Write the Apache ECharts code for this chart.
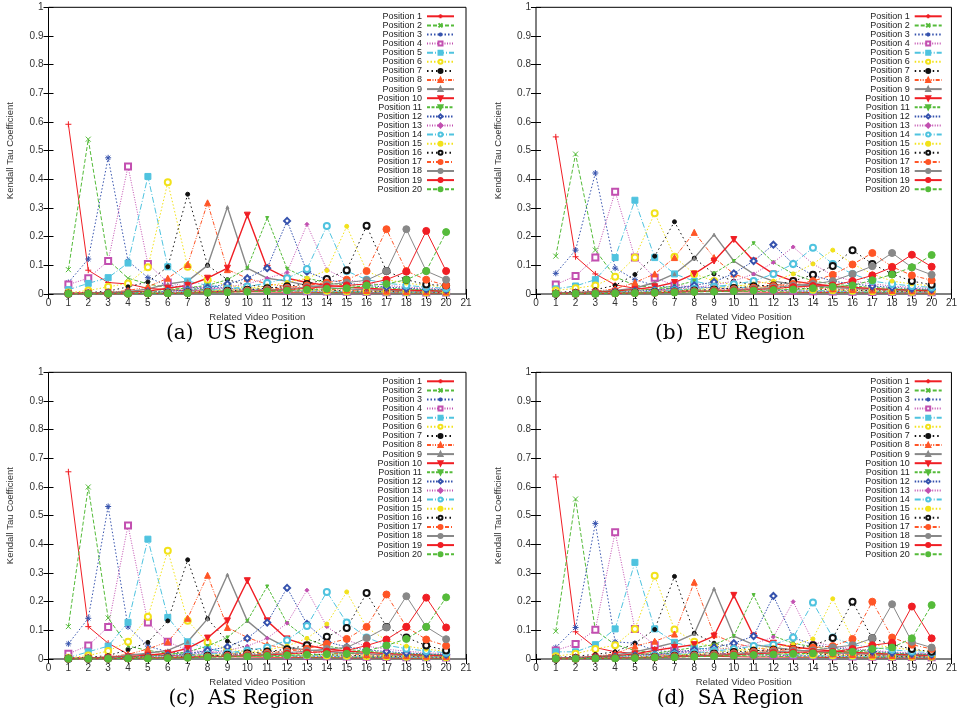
<!DOCTYPE html>
<html>
<head>
<meta charset="utf-8">
<title>Kendall Tau Coefficient by Related Video Position</title>
<script src="https://cdn.jsdelivr.net/npm/echarts@6/dist/echarts.min.js"></script>
<style>
  html, body { margin: 0; padding: 0; background: #fff; }
  #chart { width: 960px; height: 716px; }
</style>
</head>
<body>
<div id="chart"></div>
<script>
// related video positions, x axis
const positions = [1, 2, 3, 4, 5, 6, 7, 8, 9, 10, 11, 12, 13, 14, 15, 16, 17, 18, 19, 20]
const yTicks = ['0', '0.1', '0.2', '0.3', '0.4', '0.5', '0.6', '0.7', '0.8', '0.9', '1']
const captions = ['(a)  US Region', '(b)  EU Region', '(c)  AS Region', '(d)  SA Region']

// one row per "Position k" series, values at x = 1..20
const usData = [
  [0.592,0.083,0.040,0.035,0.020,0.015,0.012,0.010,0.008,0.008,0.007,0.006,0.006,0.005,0.005,0.004,0.004,0.004,0.003,0.003],
  [0.085,0.540,0.118,0.055,0.035,0.022,0.018,0.015,0.012,0.010,0.009,0.008,0.007,0.006,0.006,0.005,0.005,0.004,0.004,0.004],
  [0.040,0.122,0.475,0.115,0.057,0.030,0.022,0.025,0.020,0.016,0.014,0.012,0.010,0.009,0.008,0.007,0.006,0.006,0.005,0.005],
  [0.033,0.055,0.115,0.445,0.105,0.040,0.025,0.020,0.018,0.015,0.013,0.011,0.010,0.009,0.008,0.007,0.006,0.006,0.005,0.005],
  [0.015,0.037,0.057,0.108,0.410,0.095,0.045,0.030,0.022,0.018,0.015,0.013,0.011,0.010,0.009,0.008,0.007,0.006,0.006,0.005],
  [0.005,0.012,0.025,0.037,0.093,0.390,0.095,0.050,0.030,0.022,0.018,0.015,0.013,0.011,0.010,0.009,0.008,0.007,0.006,0.006],
  [0.003,0.005,0.010,0.025,0.042,0.095,0.348,0.100,0.050,0.032,0.024,0.019,0.016,0.013,0.011,0.010,0.009,0.008,0.007,0.006],
  [0.002,0.004,0.006,0.012,0.025,0.055,0.103,0.318,0.085,0.055,0.035,0.026,0.020,0.016,0.014,0.012,0.010,0.009,0.008,0.007],
  [0.002,0.003,0.005,0.008,0.018,0.035,0.045,0.100,0.303,0.090,0.055,0.045,0.030,0.022,0.018,0.015,0.013,0.011,0.010,0.009],
  [0.002,0.003,0.004,0.006,0.010,0.020,0.030,0.055,0.090,0.275,0.090,0.055,0.040,0.030,0.024,0.020,0.016,0.014,0.012,0.010],
  [0.001,0.002,0.003,0.005,0.008,0.012,0.022,0.030,0.050,0.090,0.265,0.088,0.055,0.040,0.030,0.025,0.020,0.017,0.015,0.013],
  [0.001,0.002,0.003,0.004,0.006,0.009,0.015,0.022,0.035,0.055,0.090,0.255,0.078,0.050,0.038,0.030,0.024,0.020,0.017,0.015],
  [0.001,0.002,0.002,0.003,0.005,0.007,0.011,0.016,0.025,0.035,0.055,0.075,0.243,0.085,0.050,0.038,0.030,0.024,0.020,0.017],
  [0.001,0.001,0.002,0.003,0.004,0.006,0.009,0.012,0.018,0.026,0.038,0.055,0.087,0.237,0.080,0.050,0.038,0.030,0.024,0.020],
  [0.001,0.001,0.002,0.002,0.004,0.005,0.007,0.010,0.014,0.020,0.028,0.040,0.055,0.082,0.236,0.080,0.050,0.038,0.030,0.025],
  [0.001,0.001,0.001,0.002,0.003,0.004,0.006,0.008,0.011,0.015,0.020,0.027,0.035,0.052,0.083,0.238,0.080,0.050,0.033,0.030],
  [0.001,0.001,0.001,0.002,0.002,0.003,0.005,0.007,0.009,0.012,0.016,0.022,0.030,0.040,0.050,0.080,0.226,0.080,0.050,0.030],
  [0.001,0.001,0.001,0.001,0.002,0.003,0.004,0.006,0.008,0.010,0.014,0.018,0.024,0.032,0.040,0.048,0.080,0.226,0.080,0.050],
  [0.001,0.001,0.001,0.001,0.002,0.002,0.003,0.005,0.007,0.009,0.012,0.015,0.020,0.026,0.030,0.035,0.050,0.078,0.220,0.080],
  [0.001,0.001,0.001,0.001,0.002,0.002,0.003,0.004,0.006,0.008,0.010,0.012,0.015,0.018,0.020,0.030,0.035,0.050,0.080,0.216]
]
const euData = [
  [0.548,0.130,0.070,0.032,0.020,0.015,0.012,0.010,0.009,0.008,0.007,0.006,0.006,0.005,0.005,0.005,0.004,0.004,0.004,0.003],
  [0.132,0.488,0.153,0.060,0.030,0.022,0.018,0.015,0.012,0.010,0.009,0.008,0.007,0.007,0.006,0.006,0.005,0.005,0.004,0.004],
  [0.072,0.153,0.422,0.090,0.050,0.030,0.022,0.025,0.022,0.018,0.015,0.013,0.011,0.010,0.009,0.008,0.007,0.007,0.006,0.006],
  [0.033,0.063,0.127,0.357,0.127,0.057,0.030,0.025,0.020,0.017,0.015,0.013,0.011,0.010,0.009,0.008,0.007,0.007,0.006,0.006],
  [0.018,0.028,0.050,0.127,0.327,0.127,0.070,0.045,0.030,0.024,0.020,0.017,0.015,0.013,0.011,0.010,0.009,0.008,0.007,0.007],
  [0.012,0.020,0.030,0.060,0.127,0.282,0.130,0.070,0.045,0.032,0.025,0.020,0.017,0.015,0.013,0.011,0.010,0.009,0.008,0.008],
  [0.005,0.010,0.015,0.030,0.068,0.132,0.252,0.125,0.070,0.045,0.032,0.026,0.021,0.018,0.015,0.013,0.012,0.010,0.009,0.008],
  [0.003,0.006,0.010,0.018,0.040,0.070,0.127,0.215,0.127,0.070,0.045,0.034,0.027,0.022,0.018,0.016,0.014,0.012,0.011,0.010],
  [0.003,0.005,0.008,0.012,0.020,0.040,0.070,0.125,0.207,0.115,0.070,0.045,0.034,0.028,0.023,0.019,0.016,0.014,0.012,0.011],
  [0.002,0.004,0.006,0.010,0.016,0.025,0.040,0.070,0.115,0.190,0.115,0.070,0.045,0.035,0.028,0.023,0.019,0.016,0.014,0.012],
  [0.002,0.003,0.005,0.008,0.012,0.018,0.028,0.045,0.072,0.115,0.177,0.110,0.070,0.045,0.035,0.028,0.023,0.019,0.016,0.014],
  [0.002,0.003,0.004,0.006,0.010,0.014,0.020,0.030,0.042,0.072,0.115,0.172,0.105,0.065,0.045,0.035,0.028,0.023,0.019,0.016],
  [0.001,0.002,0.004,0.005,0.008,0.012,0.016,0.022,0.032,0.045,0.070,0.110,0.164,0.105,0.065,0.045,0.035,0.028,0.023,0.019],
  [0.001,0.002,0.003,0.005,0.007,0.010,0.013,0.018,0.025,0.034,0.045,0.070,0.105,0.161,0.105,0.070,0.045,0.035,0.028,0.023],
  [0.001,0.002,0.003,0.004,0.006,0.008,0.011,0.015,0.020,0.027,0.035,0.045,0.070,0.105,0.153,0.105,0.070,0.045,0.035,0.028],
  [0.001,0.002,0.002,0.004,0.005,0.007,0.009,0.012,0.016,0.021,0.027,0.030,0.045,0.067,0.098,0.153,0.105,0.070,0.045,0.032],
  [0.001,0.001,0.002,0.003,0.004,0.006,0.008,0.010,0.013,0.017,0.022,0.028,0.035,0.045,0.067,0.103,0.143,0.095,0.065,0.048],
  [0.001,0.001,0.002,0.003,0.004,0.005,0.007,0.009,0.011,0.014,0.018,0.023,0.029,0.035,0.045,0.070,0.097,0.143,0.093,0.067],
  [0.001,0.001,0.002,0.002,0.003,0.004,0.006,0.008,0.010,0.012,0.015,0.019,0.024,0.028,0.030,0.045,0.065,0.093,0.137,0.095],
  [0.001,0.001,0.001,0.002,0.003,0.004,0.005,0.007,0.008,0.010,0.012,0.014,0.016,0.020,0.025,0.030,0.048,0.068,0.093,0.136]
]
const asData = [
  [0.653,0.113,0.055,0.017,0.015,0.012,0.010,0.009,0.008,0.007,0.006,0.006,0.005,0.005,0.004,0.004,0.004,0.003,0.003,0.003],
  [0.113,0.600,0.143,0.045,0.030,0.020,0.016,0.013,0.011,0.010,0.009,0.008,0.007,0.006,0.006,0.005,0.005,0.004,0.004,0.004],
  [0.053,0.142,0.532,0.112,0.045,0.025,0.020,0.022,0.018,0.015,0.013,0.011,0.010,0.009,0.008,0.007,0.006,0.006,0.005,0.005],
  [0.018,0.047,0.112,0.466,0.127,0.060,0.030,0.025,0.020,0.017,0.014,0.012,0.011,0.010,0.009,0.008,0.007,0.006,0.006,0.005],
  [0.005,0.025,0.045,0.128,0.418,0.145,0.060,0.035,0.025,0.020,0.016,0.014,0.012,0.011,0.010,0.009,0.008,0.007,0.006,0.006],
  [0.004,0.012,0.028,0.060,0.147,0.378,0.133,0.058,0.035,0.025,0.020,0.016,0.014,0.012,0.011,0.010,0.009,0.008,0.007,0.006],
  [0.003,0.006,0.012,0.032,0.058,0.133,0.346,0.140,0.062,0.038,0.028,0.022,0.018,0.015,0.013,0.011,0.010,0.009,0.008,0.007],
  [0.002,0.004,0.008,0.016,0.035,0.060,0.142,0.292,0.110,0.075,0.050,0.035,0.027,0.021,0.018,0.015,0.013,0.011,0.010,0.009],
  [0.002,0.003,0.006,0.012,0.020,0.030,0.060,0.140,0.294,0.133,0.075,0.040,0.032,0.026,0.021,0.018,0.015,0.013,0.011,0.010],
  [0.002,0.003,0.005,0.008,0.013,0.020,0.037,0.073,0.133,0.273,0.133,0.070,0.048,0.035,0.028,0.023,0.019,0.016,0.014,0.012],
  [0.001,0.002,0.004,0.006,0.010,0.015,0.025,0.045,0.075,0.133,0.253,0.125,0.070,0.045,0.034,0.027,0.022,0.018,0.016,0.014],
  [0.001,0.002,0.003,0.005,0.008,0.012,0.018,0.030,0.042,0.072,0.127,0.248,0.122,0.060,0.042,0.032,0.026,0.021,0.018,0.015],
  [0.001,0.002,0.003,0.004,0.006,0.010,0.014,0.022,0.030,0.045,0.072,0.125,0.240,0.113,0.065,0.045,0.034,0.027,0.022,0.018],
  [0.001,0.001,0.002,0.004,0.005,0.008,0.011,0.016,0.022,0.030,0.040,0.065,0.115,0.234,0.127,0.075,0.048,0.036,0.028,0.022],
  [0.001,0.001,0.002,0.003,0.005,0.007,0.009,0.013,0.018,0.024,0.032,0.045,0.072,0.122,0.234,0.110,0.065,0.045,0.034,0.027],
  [0.001,0.001,0.002,0.003,0.004,0.006,0.008,0.011,0.015,0.020,0.026,0.034,0.048,0.078,0.108,0.230,0.112,0.075,0.047,0.030],
  [0.001,0.001,0.002,0.003,0.004,0.005,0.007,0.009,0.012,0.016,0.021,0.027,0.036,0.053,0.070,0.112,0.225,0.112,0.068,0.046],
  [0.001,0.001,0.001,0.002,0.003,0.004,0.006,0.008,0.010,0.013,0.017,0.022,0.028,0.035,0.040,0.073,0.110,0.219,0.112,0.069],
  [0.001,0.001,0.001,0.002,0.003,0.004,0.005,0.007,0.009,0.011,0.014,0.018,0.022,0.026,0.030,0.047,0.068,0.112,0.214,0.110],
  [0.001,0.001,0.001,0.002,0.002,0.003,0.004,0.006,0.007,0.009,0.011,0.013,0.015,0.017,0.018,0.028,0.047,0.070,0.112,0.215]
]
const saData = [
  [0.635,0.095,0.040,0.025,0.020,0.015,0.012,0.010,0.009,0.008,0.007,0.007,0.006,0.006,0.005,0.005,0.004,0.004,0.004,0.003],
  [0.097,0.558,0.100,0.050,0.030,0.022,0.018,0.015,0.012,0.011,0.010,0.009,0.008,0.007,0.007,0.006,0.006,0.005,0.005,0.004],
  [0.040,0.110,0.473,0.060,0.055,0.030,0.024,0.025,0.020,0.017,0.015,0.013,0.012,0.010,0.009,0.008,0.008,0.007,0.006,0.006],
  [0.030,0.052,0.102,0.442,0.105,0.048,0.030,0.025,0.021,0.018,0.015,0.013,0.012,0.011,0.010,0.009,0.008,0.007,0.007,0.006],
  [0.025,0.025,0.050,0.105,0.337,0.105,0.058,0.040,0.030,0.024,0.020,0.017,0.015,0.013,0.011,0.010,0.009,0.008,0.008,0.007],
  [0.010,0.018,0.035,0.048,0.105,0.290,0.103,0.060,0.042,0.032,0.025,0.021,0.018,0.015,0.013,0.012,0.010,0.009,0.008,0.008],
  [0.005,0.010,0.016,0.025,0.055,0.103,0.288,0.090,0.055,0.040,0.031,0.025,0.021,0.018,0.015,0.013,0.012,0.010,0.009,0.008],
  [0.003,0.006,0.010,0.018,0.045,0.062,0.087,0.268,0.085,0.055,0.040,0.031,0.025,0.021,0.018,0.016,0.014,0.012,0.011,0.010],
  [0.003,0.005,0.008,0.014,0.025,0.040,0.057,0.088,0.245,0.080,0.050,0.040,0.032,0.026,0.022,0.019,0.016,0.014,0.012,0.011],
  [0.002,0.004,0.007,0.011,0.018,0.030,0.040,0.050,0.080,0.222,0.080,0.055,0.042,0.034,0.028,0.023,0.020,0.017,0.015,0.013],
  [0.002,0.003,0.006,0.009,0.014,0.020,0.030,0.040,0.050,0.080,0.223,0.080,0.055,0.042,0.034,0.028,0.023,0.020,0.017,0.015],
  [0.002,0.003,0.005,0.008,0.012,0.016,0.024,0.032,0.040,0.055,0.080,0.220,0.075,0.050,0.040,0.032,0.027,0.022,0.019,0.016],
  [0.001,0.002,0.004,0.006,0.010,0.014,0.019,0.026,0.033,0.040,0.052,0.077,0.200,0.060,0.045,0.036,0.030,0.025,0.021,0.018],
  [0.001,0.002,0.003,0.005,0.008,0.012,0.016,0.021,0.028,0.035,0.045,0.050,0.075,0.197,0.075,0.050,0.040,0.032,0.026,0.022],
  [0.001,0.002,0.003,0.005,0.007,0.010,0.013,0.018,0.023,0.030,0.036,0.040,0.050,0.070,0.210,0.070,0.050,0.040,0.032,0.026],
  [0.001,0.002,0.003,0.004,0.006,0.008,0.011,0.015,0.019,0.024,0.029,0.032,0.035,0.048,0.073,0.200,0.072,0.050,0.035,0.025],
  [0.001,0.001,0.002,0.004,0.005,0.007,0.010,0.013,0.016,0.020,0.025,0.030,0.034,0.040,0.045,0.070,0.200,0.075,0.050,0.035],
  [0.001,0.001,0.002,0.003,0.005,0.006,0.008,0.011,0.014,0.017,0.021,0.025,0.028,0.030,0.040,0.048,0.072,0.191,0.060,0.040],
  [0.001,0.001,0.002,0.003,0.004,0.005,0.007,0.009,0.012,0.015,0.018,0.021,0.023,0.025,0.025,0.035,0.048,0.057,0.183,0.072],
  [0.001,0.001,0.002,0.002,0.003,0.005,0.006,0.008,0.010,0.012,0.014,0.016,0.018,0.020,0.022,0.025,0.035,0.040,0.072,0.188]
]
const regionData = [usData, euData, asData, saData]

// gnuplot-like line / point styles, one per position
const plus = 'path://M5,0L5,10M0,5L10,5'
const cross = 'path://M0,0L10,10M10,0L0,10'
const star = 'path://M5,0L5,10M0,5L10,5M1.5,1.5L8.5,8.5M8.5,1.5L1.5,8.5'
const RED = '#f01e24', GREEN = '#55bb3a', BLUE = '#3552ad', MAG = '#c24fb0',
      CYAN = '#4fc3df', YEL = '#f2e21a', BLK = '#111111', ORG = '#ff5526', GRAY = '#888888'
const styles = [
  { color: RED,   dash: 'solid',            symbol: plus,            size: 6 },
  { color: GREEN, dash: [4, 2],             symbol: cross,           size: 5 },
  { color: BLUE,  dash: [1.5, 2],           symbol: star,            size: 6 },
  { color: MAG,   dash: [1, 1.5],           symbol: 'emptyRect',     size: 6 },
  { color: CYAN,  dash: [6, 2, 1, 2],       symbol: 'rect',          size: 6 },
  { color: YEL,   dash: [1.5, 2],           symbol: 'emptyCircle',   size: 6 },
  { color: BLK,   dash: [1.5, 3],           symbol: 'circle',        size: 4 },
  { color: ORG,   dash: [4, 1.5, 1, 1.5, 1, 1.5], symbol: 'triangle', size: 6 },
  { color: GRAY,  dash: 'solid',            symbol: 'triangle',      size: 3, width: 1.4 },
  { color: RED,   dash: 'solid',            symbol: 'triangle',      size: 6, rotate: 180, width: 1.4 },
  { color: GREEN, dash: [3, 1.5],           symbol: 'triangle',      size: 3, rotate: 180 },
  { color: BLUE,  dash: [1.5, 1.5],         symbol: 'emptyDiamond',  size: 6 },
  { color: MAG,   dash: [1, 1.5],           symbol: 'diamond',       size: 4 },
  { color: CYAN,  dash: [6, 2, 1, 2],       symbol: 'emptyCircle',   size: 6 },
  { color: YEL,   dash: [1.5, 2],           symbol: 'circle',        size: 4 },
  { color: BLK,   dash: [1.5, 3],           symbol: 'emptyCircle',   size: 6, border: 2 },
  { color: ORG,   dash: [4, 2, 1, 2],       symbol: 'circle',        size: 7 },
  { color: GRAY,  dash: 'solid',            symbol: 'circle',        size: 7 },
  { color: RED,   dash: 'solid',            symbol: 'circle',        size: 7 },
  { color: GREEN, dash: [4, 2],             symbol: 'circle',        size: 7 }
]

// plot boxes: [left, top] of each panel
const panels = [[48.5, 7.3], [536, 7.3], [48.5, 372.3], [536, 372.3]]
const boxW = 417.5, boxH = 286.7
const captionPos = [[240, 334], [730, 334], [241, 699], [730, 699]]

const FONT = '"Liberation Sans", Arial, sans-serif'
const grids = [], xAxes = [], yAxes = [], legends = [], series = [], graphics = []

panels.forEach(([left, top], g) => {
  grids.push({ left: left, top: top, width: boxW, height: boxH, show: true,
    borderColor: '#000', borderWidth: 1, backgroundColor: 'transparent' })
  const xBase = { gridIndex: g, type: 'value', min: 0, max: 21, interval: 1,
    axisLine: { show: false }, splitLine: { show: false },
    axisTick: { inside: true, length: 5, lineStyle: { color: '#000' } } }
  xAxes.push(Object.assign({}, xBase, {
    position: 'bottom',
    axisLabel: { fontSize: 10, color: '#333', margin: 4, fontFamily: FONT },
    name: 'Related Video Position', nameLocation: 'middle', nameGap: 18,
    nameTextStyle: { fontSize: 9.5, color: '#333', fontFamily: FONT }
  }))
  xAxes.push(Object.assign({}, xBase, { position: 'top', axisLabel: { show: false } }))
  const yBase = { gridIndex: g, type: 'value', min: 0, max: 1, interval: 0.1,
    axisLine: { show: false }, splitLine: { show: false },
    axisTick: { inside: true, length: 5, lineStyle: { color: '#000' } } }
  yAxes.push(Object.assign({}, yBase, {
    position: 'left',
    axisLabel: { fontSize: 10, color: '#333', margin: 5, fontFamily: FONT,
      formatter: v => yTicks[Math.round(v * 10)] },
    name: 'Kendall Tau Coefficient', nameLocation: 'middle', nameGap: 33,
    nameTextStyle: { fontSize: 9.5, color: '#333', fontFamily: FONT }
  }))
  yAxes.push(Object.assign({}, yBase, { position: 'right', axisLabel: { show: false } }))

  legends.push({
    orient: 'vertical', align: 'right',
    right: g % 2 === 0 ? 505 : 17.3,
    top: top + 4.5,
    padding: 0, itemGap: 0.1, itemWidth: 27, itemHeight: 5,
    selectedMode: false,
    textStyle: { fontSize: 9, color: '#222', fontFamily: FONT },
    data: positions.map(p => 'Position ' + p)
  })

  graphics.push({
    type: 'text', x: captionPos[g][0], y: captionPos[g][1],
    style: { text: captions[g], fill: '#000', font: '20px "DejaVu Serif", serif',
      textAlign: 'center', textVerticalAlign: 'middle' }
  })

  regionData[g].forEach((row, k) => {
    const s = styles[k]
    series.push({
      name: 'Position ' + positions[k],
      type: 'line',
      xAxisIndex: g * 2,
      yAxisIndex: g * 2,
      data: positions.map((p, j) => [p, row[j]]),
      symbol: s.symbol,
      symbolSize: s.size,
      symbolRotate: s.rotate || 0,
      showSymbol: true,
      lineStyle: { color: s.color, width: s.width || 1, type: s.dash },
      itemStyle: { color: s.color, borderColor: s.color, borderWidth: s.border || 1 },
      emphasis: { disabled: true }
    })
  })
})

const chart = echarts.init(document.getElementById('chart'), null, { renderer: 'canvas' })
chart.setOption({
  animation: false,
  backgroundColor: '#fff',
  grid: grids,
  xAxis: xAxes,
  yAxis: yAxes,
  legend: legends,
  series: series,
  graphic: graphics
})
window.addEventListener('resize', () => chart.resize())
</script>
</body>
</html>
